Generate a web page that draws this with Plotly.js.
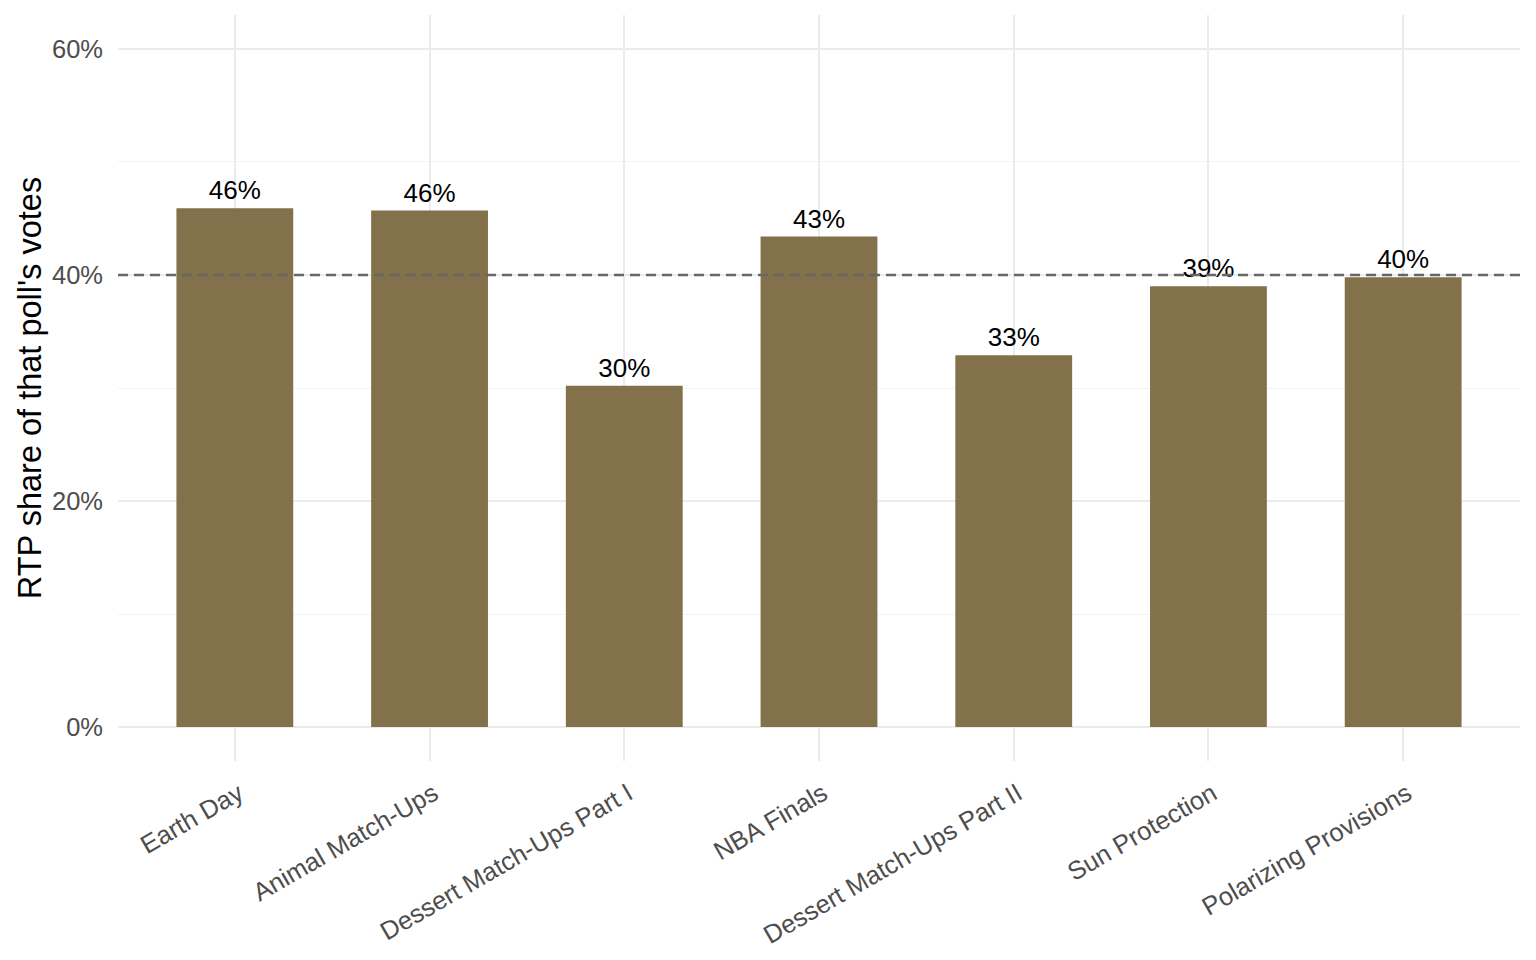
<!DOCTYPE html>
<html>
<head>
<meta charset="utf-8">
<script src="https://cdn.plot.ly/plotly-3.0.1.min.js"></script>
<style>
html,body{margin:0;padding:0;background:#fff;}
#chart{width:1536px;height:960px;}
</style>
</head>
<body>
<div id="chart"></div>
<script>
const categories = ["Earth Day", "Animal Match-Ups", "Dessert Match-Ups Part I", "NBA Finals", "Dessert Match-Ups Part II", "Sun Protection", "Polarizing Provisions"];
const rtpShare = [45.9, 45.7, 30.2, 43.4, 32.9, 39.0, 39.8];
const labels = ["46%", "46%", "30%", "43%", "33%", "39%", "40%"];
const referenceLine = 40;
const yTickVals = [0, 20, 40, 60];
const yTickText = ["0%", "20%", "40%", "60%"];

const trace = {
  type: "bar",
  x: categories,
  y: rtpShare,
  width: 0.6,
  marker: {color: "#83714C"},
  text: labels,
  textposition: "outside",
  textfont: {family: "Liberation Sans, Arial, sans-serif", size: 26, color: "#000000"},
  cliponaxis: false,
  hoverinfo: "skip"
};

const layout = {
  width: 1536,
  height: 960,
  paper_bgcolor: "#ffffff",
  plot_bgcolor: "#ffffff",
  margin: {l: 118, r: 16, t: 15, b: 199},
  showlegend: false,
  font: {family: "Liberation Sans, Arial, sans-serif", color: "#4D4D4D"},
  xaxis: {
    type: "category",
    range: [-0.6, 6.6],
    showgrid: true,
    gridcolor: "#EBEBEB",
    gridwidth: 2,
    zeroline: false,
    showline: false,
    ticks: "",
    tickangle: -30,
    tickfont: {size: 25.5, color: "#4D4D4D"},
    ticklabelstandoff: 12,
    ticklabelshift: 4,
    automargin: false
  },
  yaxis: {
    range: [-3, 63],
    tickvals: yTickVals,
    ticktext: yTickText,
    showgrid: true,
    gridcolor: "#EBEBEB",
    gridwidth: 2,
    minor: {dtick: 10, tick0: 0, showgrid: true, gridcolor: "#F3F3F3", gridwidth: 1},
    zeroline: false,
    showline: false,
    ticks: "",
    tickfont: {size: 25.5, color: "#4D4D4D"},
    ticklabelstandoff: 14,
    automargin: false,
    title: {text: "RTP share of that poll's votes", font: {size: 32.5, color: "#000000"}, standoff: 0}
  },
  shapes: [{
    type: "line",
    xref: "paper", x0: 0, x1: 1,
    yref: "y", y0: referenceLine, y1: referenceLine,
    line: {color: "#666666", width: 2.5, dash: "10px,6px"},
    layer: "above"
  }]
};

Plotly.newPlot("chart", [trace], layout, {displayModeBar: false, staticPlot: true});
</script>
</body>
</html>
